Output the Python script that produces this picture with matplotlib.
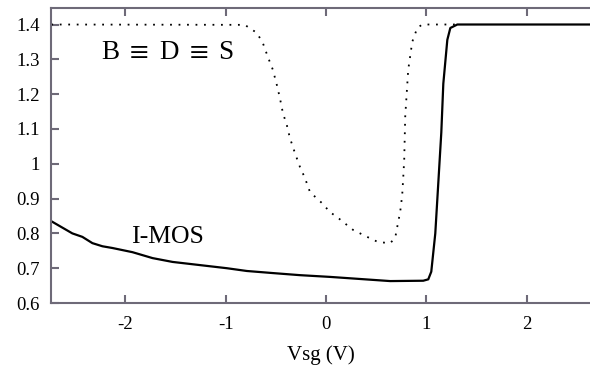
#!/usr/bin/env python3

import matplotlib
matplotlib.use('Agg')
from matplotlib import pyplot as plt

# I-MOS curve (solid)
x_imos = [-2.74, -2.62, -2.53, -2.43, -2.33, -2.23, -2.13, -1.93, -1.73, -1.53,
          -1.26, -0.99, -0.79, -0.53, -0.26, 0.04, 0.34, 0.64, 0.97, 1.02,
          1.05, 1.09, 1.12, 1.15, 1.17, 1.21, 1.24, 1.31, 2.64]
y_imos = [0.835, 0.815, 0.80, 0.79, 0.772, 0.763, 0.758, 0.746, 0.729, 0.718,
          0.709, 0.70, 0.692, 0.686, 0.68, 0.675, 0.669, 0.663, 0.664, 0.668,
          0.69, 0.80, 0.945, 1.09, 1.23, 1.356, 1.39, 1.40, 1.40]

# B = D = S curve (dotted)
x_bds = [-2.74, -0.81, -0.69, -0.63, -0.58, -0.53, -0.49, -0.46, -0.43, -0.39,
         -0.36, -0.31, -0.26, -0.21, -0.16, -0.09, -0.04, 0.04, 0.11, 0.17,
         0.27, 0.41, 0.52, 0.64, 0.69, 0.72, 0.74, 0.76, 0.77, 0.78,
         0.79, 0.82, 0.86, 0.91, 0.96, 1.32]
y_bds = [1.40, 1.399, 1.376, 1.347, 1.307, 1.27, 1.226, 1.189, 1.146, 1.11,
         1.074, 1.031, 0.991, 0.959, 0.919, 0.90, 0.887, 0.861, 0.847, 0.833,
         0.81, 0.79, 0.775, 0.772, 0.787, 0.833, 0.862, 0.91, 0.959, 1.011,
         1.135, 1.27, 1.35, 1.39, 1.40, 1.40]

x_ticks = [-2, -1, 0, 1, 2]
y_ticks = [0.6, 0.7, 0.8, 0.9, 1.0, 1.1, 1.2, 1.3, 1.4]
y_labels = ['0.6', '0.7', '0.8', '0.9', '1', '1.1', '1.2', '1.3', '1.4']

plt.rcParams['font.family'] = ['Liberation Serif', 'DejaVu Serif']
plt.rcParams['mathtext.fontset'] = 'stix'

fig = plt.figure(figsize=(5.9, 3.79), dpi=100)
ax = fig.add_axes([0.0864, 0.2005, 0.9136, 0.7771])

ax.plot(x_bds, y_bds, color='black', lw=1.3, dashes=(1, 3.7))
ax.plot(x_imos, y_imos, color='black', lw=1.6)

ax.set_xlim(-2.743, 2.633)
ax.set_ylim(0.6, 1.446)

spine_col = '#6e6a78'
for side in ('left', 'bottom', 'top'):
    ax.spines[side].set_color(spine_col)
    ax.spines[side].set_linewidth(1.5)
ax.spines['right'].set_visible(False)

ax.set_xticks(x_ticks)
ax.set_xticklabels([str(t) for t in x_ticks])
ax.set_yticks(y_ticks)
ax.set_yticklabels(y_labels)
ax.tick_params(axis='x', direction='in', top=True, length=6, width=1.5,
               color=spine_col, labelsize=13.5, pad=9)
ax.tick_params(axis='y', direction='in', right=False, length=6, width=1.5,
               color=spine_col, labelsize=13.5, pad=8)

ax.set_xlabel('Vsg (V)', fontsize=15, labelpad=9)

ax.text(-2.24, 1.321, 'B $\\equiv$ D $\\equiv$ S', fontsize=19.5, va='center', ha='left')
ax.text(-1.94, 0.79, 'I-MOS', fontsize=18.5, va='center', ha='left')

fig.savefig('out.png', dpi=100)
